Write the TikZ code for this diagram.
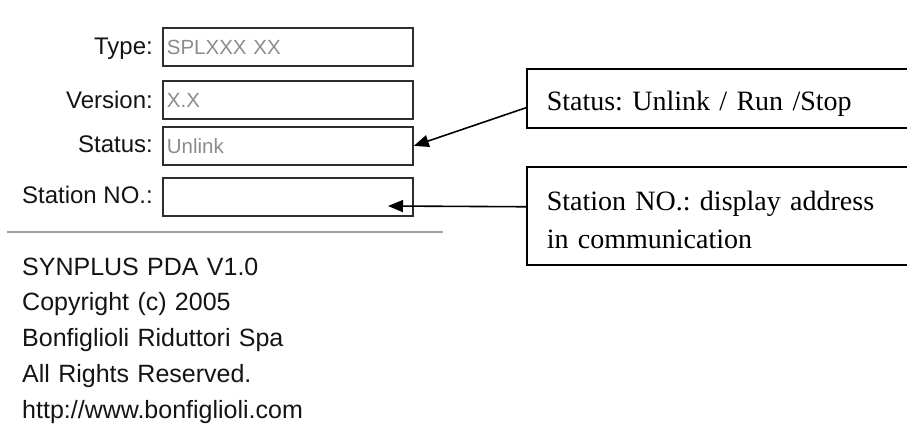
\documentclass[tikz,border=0pt]{standalone}
\usepackage{fontspec}
\setmainfont{Liberation Serif}
\newfontfamily\uifont{Liberation Sans}
\usetikzlibrary{arrows.meta}
\definecolor{fieldc}{RGB}{45,45,45}
\definecolor{valc}{RGB}{140,140,140}
\definecolor{labc}{RGB}{20,20,20}
\definecolor{sepc}{RGB}{160,160,160}
\frenchspacing
\begin{document}
\begin{tikzpicture}[x=1pt,y=-1pt,
  lab/.style={font=\uifont\fontsize{24}{28}\selectfont, text=labc, anchor=base east, inner sep=0pt},
  field/.style={draw=fieldc, line width=1.8pt, anchor=north west, text width=242pt,
    inner xsep=4pt, inner ysep=0pt, text height=27pt, text depth=11pt,
    font=\uifont\fontsize{20.5}{24}\selectfont, text=valc, align=left},
  callout/.style={draw=black, line width=1.5pt, anchor=north west, text width=400pt,
    inner xsep=20pt, inner ysep=0pt, font=\fontsize{28}{38}\selectfont, align=left},
  arr/.style={line width=1.6pt, -{Triangle[length=15pt,width=12pt]}},
  info/.style={font=\uifont\fontsize{25}{35.75}\selectfont, text=labc, anchor=base west,
    inner sep=0pt, text width=320pt, align=left}]
\useasboundingbox (0,0) rectangle (907,426);
\clip (0,0) rectangle (907,426);

% fields
\node[field] (tbox) at (162,27) {SPLXXX XX};
\node[field] (vbox) at (162,80) {X.X};
\node[field] (sbox) at (162,126) {Unlink};
\node[field] (nbox) at (162,177) {};

% labels
\node[lab] (tlab) at (153,54) {Type:};
\node[lab] (vlab) at (153,108) {Version:};
\node[lab] (slab) at (153,152) {Status:};
\node[lab] (nlab) at (153,203) {Station NO.:};

% separator
\draw[sepc, line width=1.5pt] (7,232) -- (443,232);

% info text
\node[info] (info) at (22,275) {SYNPLUS PDA V1.0\\Copyright (c) 2005\\Bonfiglioli Riduttori Spa\\All Rights Reserved.\\http://www.bonfiglioli.com};

% callouts
\node[callout, text height=42pt, text depth=17pt] (scall) at (526,68) {Status: Unlink / Run /Stop};
\node[callout, text height=44pt, text depth=54pt] (ncall) at (526,166) {Station NO.: display address\\in communication};

% arrows
\coordinate (ntip) at (388,206);
\draw[arr] ([yshift=-9.5pt]scall.west) -- (sbox.east);
\draw[arr] ([yshift=9pt]ncall.west) -- (ntip);
\end{tikzpicture}
\end{document}
